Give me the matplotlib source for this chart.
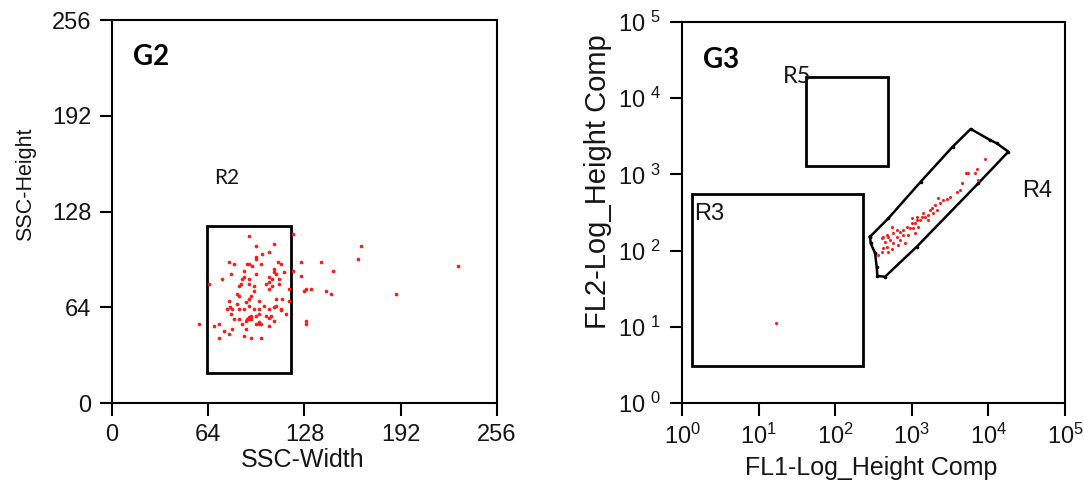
import matplotlib
matplotlib.use("Agg")
import matplotlib.pyplot as plt
from matplotlib.patches import Rectangle
import numpy as np

plt.rcParams['font.family'] = ['Liberation Sans', 'DejaVu Sans']
plt.rcParams['mathtext.fontset'] = 'custom'
plt.rcParams['mathtext.rm'] = 'Liberation Sans'
plt.rcParams['mathtext.it'] = 'Liberation Sans:italic'
plt.rcParams['mathtext.bf'] = 'Liberation Sans:bold'

# ---- G2: SSC-Width vs SSC-Height (linear channels 0..256)
ssc_width = [91, 120.6, 96, 107.5, 165.6, 104.4, 99.5, 96, 96, 77.8, 81, 89.8, 91, 92.9,
             99.3, 110.6, 112.6, 125.7, 139, 163.8, 229.8, 87.8, 79.3, 96, 107.5, 107.7,
             109.3, 114.1, 120.6, 147.2, 125.9, 72.9, 86.2, 87.8, 91.3, 104.4, 106.2, 111,
             104.2, 102.4, 91, 86, 94.4, 111, 84.7, 106.2, 104.6, 117.7, 129, 132.5, 127.7,
             142.3, 145.8, 188.8, 64.5, 83.1, 84.7, 92.6, 90.9, 89.3, 94.4, 77.8, 82.9, 97.7,
             109.3, 113, 117.9, 76.2, 78.7, 79.6, 84.7, 88, 91, 94.2, 98, 101.1, 104.4, 107.7,
             109.3, 112.6, 112.4, 115.9, 79.3, 81, 84.7, 89.6, 91, 92.6, 96, 97.7, 102.6,
             104.2, 105.9, 89.3, 91, 92.6, 107.7, 86.2, 96, 97.5, 97.7, 99.1, 104.2, 129,
             129.2, 58, 67.8, 71.1, 74.7, 79.6, 89.3, 77.8, 87.8, 71.1, 92.6, 99.1]
ssc_height = [111.4, 113, 104.7, 106.3, 104.7, 101.2, 99.6, 97.4, 96.3, 94.5, 92.9, 93.1,
              93.1, 91.4, 92.9, 94.5, 92.9, 94.5, 94.5, 96.3, 91.4, 88, 86.2, 86.2, 89.6,
              87.8, 86.2, 87.8, 88, 88, 84.7, 82.9, 82.9, 84.4, 82.9, 84.4, 82.9, 82.9, 81.1,
              79.5, 79.5, 79.5, 78, 79.5, 78, 78, 76.2, 76.2, 76.2, 76.2, 74.9, 74.7, 73.1,
              73.1, 79.5, 73.1, 71.3, 71.3, 69.5, 67.7, 74.7, 68, 66.4, 68, 69.5, 69.5, 68,
              63.1, 64.4, 63.1, 63.1, 63.1, 64.6, 63.1, 63.1, 64.6, 63.1, 63.9, 64.6, 62.2,
              63.1, 59.7, 59.7, 56.4, 56.4, 56.4, 57.5, 57.9, 57.9, 59.7, 57.9, 56.8, 57.9,
              54.8, 55.9, 56.4, 54.8, 53, 53, 54.1, 53, 53, 51.5, 54.6, 53, 53, 51.5, 53,
              48.1, 49.7, 49.7, 46.3, 44.8, 43.2, 43.2, 43.2]
lin_ticks = [0, 64, 128, 192, 256]
r2_box = (63, 20, 119, 118)  # x0, y0, x1, y1

# ---- G3: FL1 vs FL2 log height comp, values as decades (log10)
fl1_dec = [3.956, 3.855, 3.825, 3.703, 3.738, 3.868, 3.651, 3.586, 3.629, 3.499, 3.455,
           3.412, 3.346, 3.368, 3.303, 3.259, 3.238, 3.216, 3.172, 3.129, 3.150, 3.107,
           3.064, 3.042, 2.998, 3.085, 3.020, 2.977, 2.933, 2.889, 2.846, 2.803, 2.738,
           2.759, 2.672, 2.628, 2.607, 2.650, 2.715, 2.759, 2.846, 2.911, 2.824, 2.672,
           2.738, 2.628, 2.607, 2.563, 2.694, 2.889, 2.955, 3.042, 3.216, 3.281, 3.325,
           3.064, 2.998, 2.803, 2.694, 1.227]
fl2_dec = [3.202, 3.071, 3.014, 3.014, 3.014, 2.927, 2.883, 2.773, 2.795, 2.708, 2.673,
           2.664, 2.686, 2.620, 2.598, 2.555, 2.533, 2.467, 2.445, 2.445, 2.489, 2.402,
           2.402, 2.358, 2.358, 2.314, 2.292, 2.292, 2.314, 2.270, 2.248, 2.270, 2.314,
           2.227, 2.205, 2.183, 2.161, 2.117, 2.139, 2.095, 2.139, 2.095, 2.073, 2.052,
           2.017, 2.030, 1.986, 1.942, 1.986, 2.205, 2.205, 2.227, 2.402, 2.489, 2.533,
           2.445, 2.423, 2.183, 2.183, 1.050]
r3_box = (0.13, 0.486, 2.36, 2.74)   # decades: x0, y0, x1, y1
r5_box = (1.62, 3.11, 2.69, 4.28)
r4_x = [2.454, 2.694, 3.116, 3.534, 3.769, 4.021, 4.108, 4.260, 3.868, 3.064,
        2.650, 2.550, 2.541, 2.520, 2.463, 2.454]
r4_y = [2.182, 2.424, 2.904, 3.364, 3.596, 3.451, 3.408, 3.298, 2.883, 2.051,
        1.657, 1.667, 1.789, 1.965, 2.096, 2.182]
decades = [0, 1, 2, 3, 4, 5]

txt = '#151515'
fig = plt.figure(figsize=(10.84, 4.94), dpi=100)
ax1 = fig.add_axes([0.1033, 0.1842, 0.3552, 0.7753])
ax2 = fig.add_axes([0.6292, 0.1842, 0.3533, 0.7713])

for ax in (ax1, ax2):
    for s in ax.spines.values():
        s.set_linewidth(1.5)
        s.set_color('black')
    ax.tick_params(direction='out', length=9, width=1.5, colors='black',
                   labelcolor=txt, pad=6, top=False, right=False)

# left panel
ax1.scatter(ssc_width, ssc_height, s=7, c='#ff1a1a', linewidths=0, zorder=3)
x0, y0, x1, y1 = r2_box
ax1.add_patch(Rectangle((x0, y0), x1 - x0, y1 - y0, fill=False, ec='black', lw=2))
ax1.set_xlim(0, 256)
ax1.set_ylim(0, 256)
ax1.set_xticks(lin_ticks)
ax1.set_yticks(lin_ticks)
ax1.tick_params(labelsize=17)
ax1.set_xlabel('SSC-Width', fontsize=18, color=txt)
ax1.set_ylabel('SSC-Height', fontsize=15.5, color=txt)
ax1.xaxis.set_label_coords(0.495, -0.149)
ax1.xaxis.label.set_va('center')
ax1.yaxis.set_label_coords(-0.225, 0.57)
ax1.yaxis.label.set_va('center')
ax1.text(0.055, 0.903, 'G2', transform=ax1.transAxes, fontsize=20,
         fontweight='bold', family='Lato', va='center', ha='left', color='black')
ax1.text(76.5, 150.4, 'R2', fontsize=15, family='Lato', va='center', ha='center',
         color=txt)

# right panel
ax2.set_xscale('log')
ax2.set_yscale('log')
ax2.scatter(10 ** np.array(fl1_dec), 10 ** np.array(fl2_dec), s=5,
            c='#ff1a1a', linewidths=0, zorder=3)
for box in (r3_box, r5_box):
    bx0, by0, bx1, by1 = [10 ** v for v in box]
    ax2.add_patch(Rectangle((bx0, by0), bx1 - bx0, by1 - by0, fill=False,
                            ec='black', lw=2))
ax2.plot(10 ** np.array(r4_x), 10 ** np.array(r4_y), color='black', lw=1.8,
         marker='o', ms=1.6)
ax2.set_xlim(1, 1e5)
ax2.set_ylim(1, 1e5)
ax2.set_xticks([10 ** d for d in decades])
ax2.set_yticks([10 ** d for d in decades])
ax2.minorticks_off()
ax2.set_xticklabels([r'$10^{%d}$' % d for d in decades], fontsize=17)
ax2.set_yticklabels([r'$10^{\;\,%d}$' % d for d in decades], fontsize=17)
ax2.set_xlabel('FL1-Log_Height Comp', fontsize=18, color=txt)
ax2.set_ylabel('FL2-Log_Height Comp', fontsize=21, color=txt)
ax2.xaxis.set_label_coords(0.495, -0.17)
ax2.xaxis.label.set_va('center')
ax2.yaxis.set_label_coords(-0.219, 0.58)
ax2.yaxis.label.set_va('center')
ax2.text(0.055, 0.90, 'G3', transform=ax2.transAxes, fontsize=20,
         fontweight='bold', family='Lato', va='center', ha='left', color='black')
ax2.text(10 ** 1.50, 10 ** 4.28, 'R5', fontsize=17, family='Lato', va='center',
         ha='center', color=txt)
ax2.text(10 ** 4.63, 10 ** 2.78, 'R4', fontsize=17, va='center', ha='center', color=txt)
ax2.text(10 ** 0.352, 10 ** 2.48, 'R3', fontsize=17, va='center', ha='center', color=txt)

fig.savefig('out.png', dpi=100)
